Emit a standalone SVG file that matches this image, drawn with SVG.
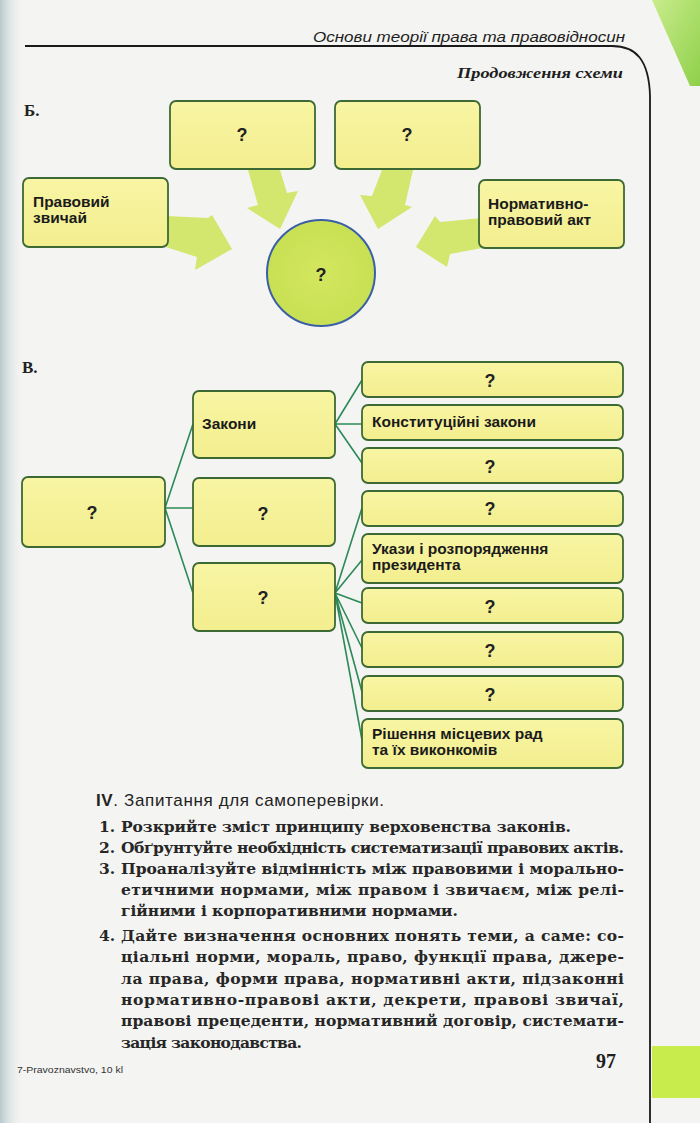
<svg xmlns="http://www.w3.org/2000/svg" width="700" height="1123" viewBox="0 0 700 1123">
<defs>
<style>
.box{fill:url(#boxg);stroke:#3d6a34;stroke-width:1.8}
.lbl{font-family:"Liberation Sans",Arial,sans-serif;font-weight:bold;font-size:15.5px;fill:#1b1b1b}
.q{font-family:"Liberation Sans",Arial,sans-serif;font-weight:bold;font-size:18px;fill:#222;text-anchor:middle}
.arrow{fill:#cfe463;opacity:0.92}
.conn{stroke:#2b8a57;stroke-width:1.6;fill:none;stroke-linecap:round}
.body{font-family:"DejaVu Serif","Liberation Serif",serif;font-weight:bold;font-size:15.5px;fill:#262626}
.sec{font-family:"Liberation Serif",serif;font-weight:bold;font-size:17px;fill:#222}
</style>
<linearGradient id="boxg" x1="0" y1="0" x2="0" y2="1">
<stop offset="0" stop-color="#f8f5a4"/>
<stop offset="1" stop-color="#f3ee8e"/>
</linearGradient>
<linearGradient id="leftg" x1="0" y1="0" x2="1" y2="0">
<stop offset="0" stop-color="#b9c9cd"/>
<stop offset="1" stop-color="#f4f4f2" stop-opacity="0"/>
</linearGradient>
<linearGradient id="cornerg" x1="0" y1="0" x2="1" y2="1">
<stop offset="0" stop-color="#c9ec8c"/>
<stop offset="1" stop-color="#8fd04a"/>
</linearGradient>
<radialGradient id="circg" cx="0.5" cy="0.5" r="0.6">
<stop offset="0" stop-color="#d3e65f"/>
<stop offset="1" stop-color="#c6df52"/>
</radialGradient>
</defs>

<rect x="0" y="0" width="700" height="1123" fill="#f4f4f2"/>
<rect x="0" y="0" width="24" height="1123" fill="url(#leftg)"/>
<polygon points="652,0 700,0 700,86 690,86" fill="url(#cornerg)"/>

<g id="header">
<text x="313" y="42" font-family="Liberation Sans,Arial,sans-serif" font-style="italic" font-size="15.5" fill="#1e1e1e" textLength="312" lengthAdjust="spacingAndGlyphs">Основи теорії права та правовідносин</text>
<path d="M25,46 H612 C636,46 649,60 650,96 V1123" fill="none" stroke="#1a1a1a" stroke-width="1.8"/>
<text x="457" y="78" font-family="Liberation Serif,serif" font-style="italic" font-weight="bold" font-size="15.5" fill="#1e1e1e" textLength="166" lengthAdjust="spacingAndGlyphs">Продовження схеми</text>
</g>

<text class="sec" x="24" y="116">Б.</text>

<g id="arrows-b">
<polygon class="arrow" points="166,216 208,218 212,215 232,249 195,270 197,257 166,247"/>
<polygon class="arrow" points="248,170 280,170 287,193 298,191 280,229 247,208 258,205"/>
<polygon class="arrow" points="382,170 413,170 405,205 412,207 378,229 360,195 372,196"/>
<polygon class="arrow" points="482,218 440,222 435,216 416,247 447,267 450,254 482,248"/>
</g>

<g id="b-top1"><rect class="box" x="170" y="101" width="145" height="68" rx="6"/><text class="q" x="242" y="141">?</text></g>
<g id="b-top2"><rect class="box" x="335" y="101" width="145" height="68" rx="6"/><text class="q" x="407" y="141">?</text></g>
<g id="b-custom"><rect class="box" x="23" y="178" width="145" height="69" rx="6"/><text class="lbl" x="33" y="207">Правовий</text><text class="lbl" x="33" y="223">звичай</text></g>
<g id="b-act"><rect class="box" x="479" y="180" width="145" height="68" rx="6"/><text class="lbl" x="488" y="209">Нормативно-</text><text class="lbl" x="488" y="225">правовий акт</text></g>
<g id="b-center"><ellipse cx="321" cy="273" rx="54" ry="53" fill="url(#circg)" stroke="#3b5fa6" stroke-width="2"/><text class="q" x="321" y="281">?</text></g>

<text class="sec" x="22" y="373">В.</text>

<g id="connectors-v">
<path class="conn" d="M165,508 L193,424 M165,508 H193 M165,508 L193,593"/>
<path class="conn" d="M335,424 L362,380 M335,424 H362 M335,424 L362,463"/>
<path class="conn" d="M335,593 L362,508 M335,593 L362,560 M335,593 L362,603 M335,593 L362,648 M335,593 L362,692 M335,593 L362,740"/>
</g>

<g id="v-root"><rect class="box" x="22" y="477" width="143" height="70" rx="6"/><text class="q" x="92" y="519">?</text></g>
<g id="v-laws"><rect class="box" x="193" y="391" width="142" height="67" rx="6"/><text class="lbl" x="202" y="429">Закони</text></g>
<g id="v-mid"><rect class="box" x="193" y="478" width="142" height="68" rx="6"/><text class="q" x="263" y="520">?</text></g>
<g id="v-bylaws"><rect class="box" x="193" y="563" width="142" height="68" rx="6"/><text class="q" x="263" y="604">?</text></g>

<g id="v-r1"><rect class="box" x="362" y="362" width="261" height="35" rx="6"/><text class="q" x="490" y="387">?</text></g>
<g id="v-r2"><rect class="box" x="362" y="405" width="261" height="35" rx="6"/><text class="lbl" x="372" y="427">Конституційні закони</text></g>
<g id="v-r3"><rect class="box" x="362" y="448" width="261" height="35" rx="6"/><text class="q" x="490" y="473">?</text></g>
<g id="v-r4"><rect class="box" x="362" y="491" width="261" height="35" rx="6"/><text class="q" x="490" y="515">?</text></g>
<g id="v-r5"><rect class="box" x="362" y="534" width="261" height="49" rx="6"/><text class="lbl" x="372" y="554">Укази і розпорядження</text><text class="lbl" x="372" y="570">президента</text></g>
<g id="v-r6"><rect class="box" x="362" y="588" width="261" height="35" rx="6"/><text class="q" x="490" y="613">?</text></g>
<g id="v-r7"><rect class="box" x="362" y="632" width="261" height="35" rx="6"/><text class="q" x="490" y="657">?</text></g>
<g id="v-r8"><rect class="box" x="362" y="676" width="261" height="35" rx="6"/><text class="q" x="490" y="701">?</text></g>
<g id="v-r9"><rect class="box" x="362" y="719" width="261" height="49" rx="6"/><text class="lbl" x="372" y="739">Рішення місцевих рад</text><text class="lbl" x="372" y="755">та їх виконкомів</text></g>

<g id="questions">
<text x="96" y="806" font-family="Liberation Sans,Arial,sans-serif" font-size="17" fill="#222" textLength="288"><tspan font-weight="bold">IV</tspan>. Запитання для самоперевірки.</text>
<text class="body" x="99" y="832">1.</text>
<text class="body" x="121" y="832" textLength="450">Розкрийте зміст принципу верховенства законів.</text>
<text class="body" x="99" y="853">2.</text>
<text class="body" x="121" y="853" textLength="503">Обґрунтуйте необхідність систематизації правових актів.</text>
<text class="body" x="99" y="874">3.</text>
<text class="body" x="121" y="874" textLength="503">Проаналізуйте відмінність між правовими і морально-</text>
<text class="body" x="121" y="895" textLength="503">етичними нормами, між правом і звичаєм, між релі-</text>
<text class="body" x="121" y="916" textLength="337">гійними і корпоративними нормами.</text>
<text class="body" x="99" y="941">4.</text>
<text class="body" x="121" y="941" textLength="503">Дайте визначення основних понять теми, а саме: со-</text>
<text class="body" x="121" y="962" textLength="503">ціальні норми, мораль, право, функції права, джере-</text>
<text class="body" x="121" y="984" textLength="503">ла права, форми права, нормативні акти, підзаконні</text>
<text class="body" x="121" y="1005" textLength="503">нормативно-правові акти, декрети, правові звичаї,</text>
<text class="body" x="121" y="1026" textLength="503">правові прецеденти, нормативний договір, системати-</text>
<text class="body" x="121" y="1048" textLength="181">зація законодавства.</text>
</g>

<g id="footer">
<rect x="652" y="1046" width="48" height="52" fill="#c8ec4c"/>
<text x="596" y="1068" font-family="Liberation Serif,serif" font-weight="bold" font-size="20" fill="#1e1e1e">97</text>
<text x="17" y="1073" font-family="Liberation Sans,Arial,sans-serif" font-size="9" fill="#333" textLength="106" lengthAdjust="spacingAndGlyphs">7-Pravoznavstvo, 10 kl</text>
</g>
</svg>
